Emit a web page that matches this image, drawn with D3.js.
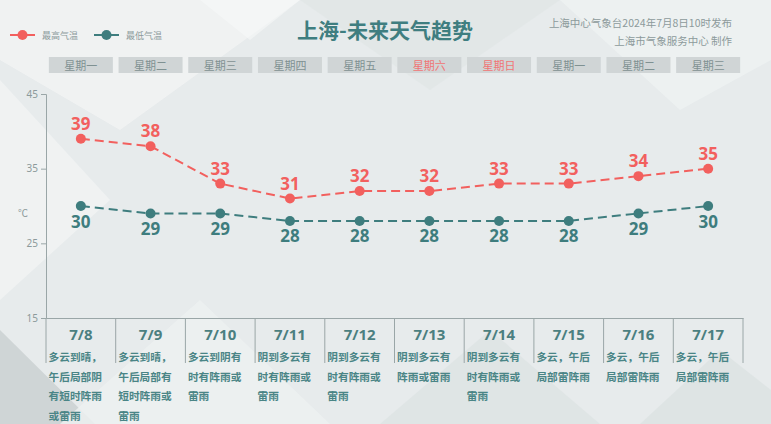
<!DOCTYPE html>
<html><head><meta charset="utf-8">
<script src="https://cdn.jsdelivr.net/npm/d3@7/dist/d3.min.js"></script>
<style>
html,body{margin:0;padding:0;background:#e8eced;}
svg{display:block;}
text{font-family:"Noto Sans CJK SC","Noto Sans",sans-serif;}
</style></head>
<body>
<svg id="c" width="771" height="424"></svg>
<script>
const dates = ["7/8","7/9","7/10","7/11","7/12","7/13","7/14","7/15","7/16","7/17"];
const weekdays = ["星期一","星期二","星期三","星期四","星期五","星期六","星期日","星期一","星期二","星期三"];
const highTemps = [39,38,33,31,32,32,33,33,34,35];
const lowTemps = [30,29,29,28,28,28,28,28,29,30];
const weather = [
  "多云到晴，午后局部阴有短时阵雨或雷雨",
  "多云到晴，午后局部有短时阵雨或雷雨",
  "多云到阴有时有阵雨或雷雨",
  "阴到多云有时有阵雨或雷雨",
  "阴到多云有时有阵雨或雷雨",
  "阴到多云有阵雨或雷雨",
  "阴到多云有时有阵雨或雷雨",
  "多云，午后局部雷阵雨",
  "多云，午后局部雷阵雨",
  "多云，午后局部雷阵雨"
];
const yTicks = [15,25,35,45];

(function(){
const svg = d3.select("#c");
const W = 771, H = 424;
const RED = "#f2605e", TEAL = "#3e7d7e";

// background
const bg = svg.append("g");
bg.append("rect").attr("width",W).attr("height",H).attr("fill","#e7ebec");
const polys = [
  {p:[[0,0],[300,0],[120,130],[0,60]], c:"#f2f4f4", o:0.8},
  {p:[[0,80],[110,200],[0,300]], c:"#f3f5f5", o:0.7},
  {p:[[0,330],[95,424],[0,424]], c:"#c9d0d1", o:0.8},
  {p:[[60,424],[200,300],[330,424]], c:"#eef1f1", o:0.8},
  {p:[[380,424],[490,330],[600,424]], c:"#dde3e3", o:0.8},
  {p:[[640,424],[720,350],[771,390],[771,424]], c:"#dce2e2", o:0.8},
  {p:[[300,0],[560,0],[430,90]], c:"#dfe4e5", o:0.6},
  {p:[[560,0],[771,0],[771,60],[680,110]], c:"#f0f3f3", o:0.7},
  {p:[[200,0],[300,0],[250,40]], c:"#f7f8f8", o:0.6}
];
polys.forEach(d=>{
  bg.append("polygon").attr("points",d.p.map(q=>q.join(",")).join(" ")).attr("fill",d.c).attr("opacity",d.o);
});

const pl = 46, pr = 743, pt = 94, pb = 318;
const x = d3.scaleBand().domain(dates).range([pl,pr]).padding(0);
const y = d3.scaleLinear().domain([15,45]).range([pb,pt]);
const cx = d => x(d) + x.bandwidth()/2;

// title & notes
svg.append("text").attr("x",385).attr("y",38).attr("text-anchor","middle")
  .attr("font-size",21).attr("font-weight","bold").attr("fill","#3f7e80").text("上海-未来天气趋势");
svg.append("text").attr("x",732).attr("y",27).attr("text-anchor","end")
  .attr("font-size",10.5).attr("fill","#8c9a9b").text("上海中心气象台2024年7月8日10时发布");
svg.append("text").attr("x",732).attr("y",45).attr("text-anchor","end")
  .attr("font-size",10.5).attr("fill","#8c9a9b").text("上海市气象服务中心 制作");

// legend
const legend = [{name:"最高气温",c:RED,x:10},{name:"最低气温",c:TEAL,x:94}];
legend.forEach(l=>{
  const g = svg.append("g");
  g.append("line").attr("x1",l.x).attr("x2",l.x+25).attr("y1",35).attr("y2",35).attr("stroke",l.c).attr("stroke-width",2);
  g.append("circle").attr("cx",l.x+12.5).attr("cy",35).attr("r",5).attr("fill",l.c);
  g.append("text").attr("x",l.x+32).attr("y",38.5).attr("font-size",9).attr("fill","#8c9a9b").text(l.name);
});

// weekday boxes
const wk = svg.append("g");
dates.forEach((d,i)=>{
  wk.append("rect").attr("x",cx(d)-32).attr("y",57).attr("width",64).attr("height",16).attr("fill","#d0d5d6");
  wk.append("text").attr("x",cx(d)).attr("y",69.5).attr("text-anchor","middle").attr("font-size",11)
    .attr("fill",(i===5||i===6)?"#f07474":"#7f9192").text(weekdays[i]);
});

// axes
const yAxis = d3.axisLeft(y).tickValues(yTicks).tickSize(5).tickPadding(3);
const ga = svg.append("g").attr("transform",`translate(${pl},0)`).call(yAxis);
ga.select(".domain").attr("stroke","#9aa6a7");
ga.selectAll(".tick line").attr("stroke","#9aa6a7");
ga.selectAll(".tick text").attr("fill","#8c9a9b").attr("font-size",10).style("font-family","'Noto Sans',sans-serif");
svg.append("text").attr("x",23).attr("y",217).attr("text-anchor","middle").attr("font-size",10).attr("fill","#8c9a9b").text("℃");

const xAxis = d3.axisBottom(x).tickValues([]).tickSizeOuter(0);
const gx = svg.append("g").attr("transform",`translate(0,${pb})`).call(xAxis);
gx.select(".domain").attr("stroke","#9aa6a7");
// column separators
const seps = dates.map(d=>x(d)).concat([pr]);
svg.append("g").selectAll("line").data(seps).join("line")
  .attr("x1",d=>d).attr("x2",d=>d).attr("y1",pb).attr("y2",363)
  .attr("stroke","#9aa6a7").attr("stroke-width",1);

// lines
const series = [{v:highTemps,c:RED,dy:-9},{v:lowTemps,c:TEAL,dy:21.5}];
series.forEach(s=>{
  const line = d3.line().x((v,i)=>cx(dates[i])).y(v=>y(v));
  svg.append("path").attr("d",line(s.v)).attr("fill","none").attr("stroke",s.c)
    .attr("stroke-width",2).attr("stroke-dasharray","9,5");
  svg.append("g").selectAll("circle").data(s.v).join("circle")
    .attr("cx",(v,i)=>cx(dates[i])).attr("cy",v=>y(v)).attr("r",5).attr("fill",s.c);
  svg.append("g").selectAll("text").data(s.v).join("text")
    .attr("x",(v,i)=>cx(dates[i])).attr("y",v=>y(v)+s.dy).attr("text-anchor","middle")
    .attr("font-size",17).attr("font-weight","bold").attr("fill",s.c)
    .style("font-family","'Open Sans','Noto Sans',sans-serif").text(v=>v);
});

// table text
const tb = svg.append("g");
dates.forEach((d,i)=>{
  tb.append("text").attr("x",cx(d)).attr("y",340).attr("text-anchor","middle")
    .attr("font-size",15).attr("font-weight","bold").attr("fill","#4b7f80")
    .style("font-family","'Open Sans','Noto Sans',sans-serif").text(d);
  const chars = Array.from(weather[i]);
  for(let k=0;k*5<chars.length;k++){
    tb.append("text").attr("x",x(d)+2.5).attr("y",361+k*19.6)
      .attr("font-size",10.7).attr("font-weight","bold").attr("fill","#4a8586")
      .text(chars.slice(k*5,k*5+5).join(""));
  }
});
})();
</script>
</body></html>
